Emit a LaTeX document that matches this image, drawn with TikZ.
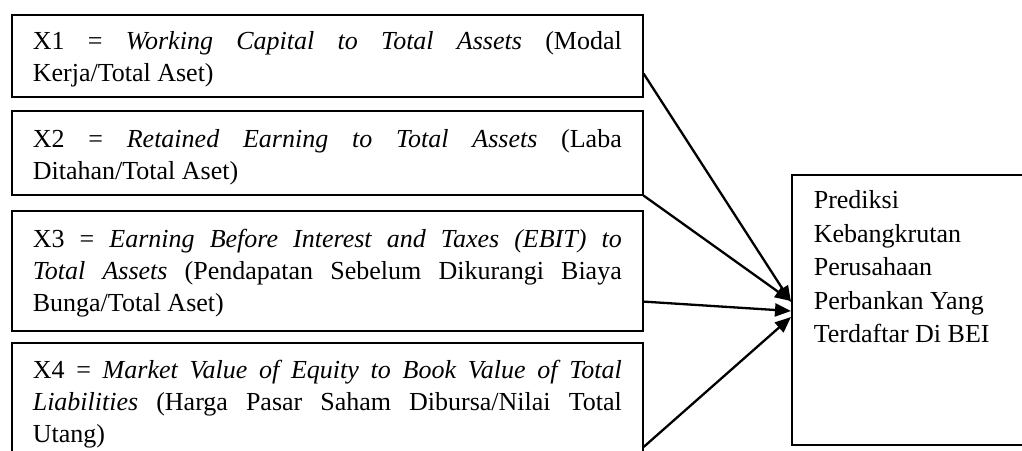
\documentclass[tikz,border=0pt]{standalone}
\usepackage{fontspec}
\setmainfont{Liberation Serif}
\usetikzlibrary{arrows.meta}
\newcommand\boxtxt[3]{\parbox[c][#1][t]{589pt}{\tolerance=10000\hyphenpenalty=10000\rule{0pt}{#2}#3}}
\begin{document}
\begin{tikzpicture}[x=1pt,y=1pt,
  box/.style={draw, line width=1.6pt, anchor=north west, inner xsep=21pt, inner ysep=0pt,
    font=\fontsize{26}{32}\selectfont},
  arr/.style={line width=2.3pt, -{Triangle[length=16pt,width=13pt]}}]
\useasboundingbox (0,0) rectangle (1022,450);
\clip (0,0) rectangle (1022,450);
\node[box] (b1) at (11,436) {\boxtxt{82pt}{35pt}{X1 = \textit{Working Capital to Total Assets} (Modal\linebreak Kerja/Total Aset)}};
\node[box] (b2) at (11,340) {\boxtxt{84pt}{37pt}{X2 = \textit{Retained Earning to Total Assets} (Laba\linebreak Ditahan/Total Aset)}};
\node[box] (b3) at (11,240) {\boxtxt{120pt}{37pt}{X3 = \textit{Earning Before Interest and Taxes (EBIT) to}\linebreak \textit{Total Assets} (Pendapatan Sebelum Dikurangi Biaya\linebreak Bunga/Total Aset)}};
\node[box] (b4) at (11,108) {\boxtxt{121pt}{36pt}{X4 = \textit{Market Value of Equity to Book Value of Total}\linebreak \textit{Liabilities} (Harga Pasar Saham Dibursa/Nilai Total\linebreak Utang)}};
\node[box, inner xsep=22pt, font=\fontsize{26}{33.5}\selectfont] (r) at (791,276)
  {\parbox[c][270pt][t]{300pt}{\raggedright\rule{0pt}{34pt}Prediksi\\Kebangkrutan\\Perusahaan\\Perbankan Yang\\Terdaftar Di BEI}};
\draw[arr] ([yshift=24pt]b1.south east) -- ([yshift=-128pt]r.north west);
\draw[arr] (b2.south east) -- ([yshift=-127pt]r.north west);
\draw[arr] ([yshift=30pt]b3.south east) -- ([yshift=-137pt]r.north west);
\draw[arr] ([yshift=-105pt]b4.north east) -- ([yshift=-143pt]r.north west);
\end{tikzpicture}
\end{document}
